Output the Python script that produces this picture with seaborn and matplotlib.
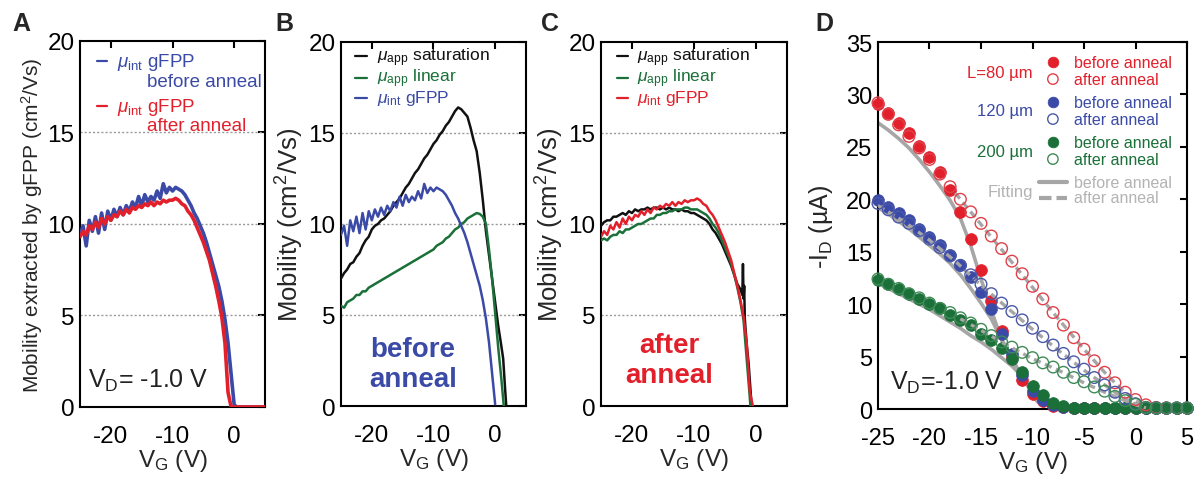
import numpy as np
import pandas as pd
import matplotlib
matplotlib.use("Agg")
import matplotlib.pyplot as plt
import seaborn as sns

# ---------------------------------------------------------------- data
# Gate-voltage grid shared by the gFPP mobility traces (0.5 V steps)
vg_mob = np.arange(-25, 5.01, 0.5)

# mu_int (gFPP), before anneal
mu_int_before = [
    9.4, 9.9, 8.8, 10.2, 9.6, 10.4, 9.5, 10.6, 9.7, 10.7, 10.2, 10.8, 10.4,
    10.9, 10.5, 11.0, 10.7, 11.2, 10.9, 11.5, 11.0, 11.6, 11.2, 11.5, 11.3,
    11.8, 11.4, 12.2, 11.7, 12.0, 11.8, 12.0, 11.9, 11.8, 11.6, 11.3, 11.0,
    10.6, 10.3, 9.9, 9.5, 9.0, 8.4, 7.8, 7.2, 6.6, 5.8, 4.8, 3.5, 1.8, 0.1,
    0, 0, 0, 0, 0, 0, 0, 0, 0, 0]

# mu_int (gFPP), after anneal
mu_int_after = [
    9.3, 9.6, 9.4, 9.9, 9.7, 10.1, 9.8, 10.3, 10.0, 10.4, 10.2, 10.5, 10.4,
    10.7, 10.5, 10.8, 10.6, 10.9, 10.8, 11.0, 10.9, 11.1, 11.0, 11.2, 11.0,
    11.2, 11.1, 11.3, 11.2, 11.3, 11.3, 11.4, 11.3, 11.1, 11.0, 10.7, 10.5,
    10.2, 9.8, 9.4, 9.0, 8.5, 8.0, 7.3, 6.6, 5.8, 4.9, 3.5, 0.8, 0, 0,
    0, 0, 0, 0, 0, 0, 0, 0, 0, 0]

# Apparent mobility before anneal (panel B)
vg_b_sat = [-25, -24.5, -24, -23.5, -23, -22.5, -22, -21.5, -21, -20.5, -20,
            -19.5, -19, -18.5, -18, -17.5, -17, -16.5, -16, -15.5, -15, -14.5,
            -14, -13.5, -13, -12.5, -12, -11.5, -11, -10.5, -10, -9.5, -9,
            -8.5, -8, -7.5, -7, -6.5, -6, -5.5, -5, -4.5, -4, -3.5, -3, -2.5,
            -2, -1.5, -1, -0.5, 0, 0.5, 1.0, 1.3, 1.6, 1.8]
mu_app_sat_before = [7.0, 7.3, 7.5, 7.8, 7.9, 8.2, 8.4, 8.8, 9.1, 9.3, 9.7,
                     9.9, 10.0, 10.2, 10.3, 10.5, 10.7, 11.0, 11.2, 11.4, 11.7,
                     12.0, 12.2, 12.5, 12.8, 13.0, 13.3, 13.6, 13.8, 14.1, 14.4,
                     14.6, 14.9, 15.1, 15.4, 15.6, 15.9, 16.2, 16.4, 16.3, 16.1,
                     15.9, 15.3, 14.6, 14.0, 12.8, 11.3, 9.6, 8.3, 7.0, 5.7,
                     4.4, 3.3, 2.6, 1.0, 0.0]
vg_b_lin = [-25, -24.5, -24, -23.5, -23, -22.5, -22, -21.5, -21, -20.5, -20,
            -19.5, -19, -18.5, -18, -17.5, -17, -16.5, -16, -15.5, -15, -14.5,
            -14, -13.5, -13, -12.5, -12, -11.5, -11, -10.5, -10, -9.5, -9,
            -8.5, -8, -7.5, -7, -6.5, -6, -5.5, -5, -4.5, -4, -3.5, -3, -2.5,
            -2, -1.5, -1, -0.5, 0, 0.5, 1.0, 1.4]
mu_app_lin_before = [5.5, 5.4, 5.7, 5.8, 5.9, 6.1, 6.1, 6.3, 6.3, 6.5, 6.6,
                     6.7, 6.8, 6.9, 7.0, 7.1, 7.2, 7.3, 7.4, 7.5, 7.6, 7.7,
                     7.8, 7.9, 8.0, 8.1, 8.2, 8.3, 8.4, 8.5, 8.6, 8.8, 8.9,
                     9.0, 9.2, 9.3, 9.5, 9.7, 9.8, 10.0, 10.1, 10.3, 10.4,
                     10.5, 10.6, 10.55, 10.4, 10.0, 8.6, 7.0, 5.1, 3.2, 1.5, 0.0]

# Apparent mobility after anneal (panel C)
vg_c_sat = [-25, -24.5, -24, -23.5, -23, -22.5, -22, -21.5, -21, -20.5, -20,
            -19.5, -19, -18.5, -18, -17.5, -17, -16.5, -16, -15.5, -15, -14.5,
            -14, -13.5, -13, -12.5, -12, -11.5, -11, -10.5, -10, -9.5, -9,
            -8.5, -8, -7.5, -7, -6.5, -6, -5.5, -5, -4.5, -4, -3.5, -3, -2.5,
            -2.2, -2.1, -2.0, -1.9, -1.8, -1.5, -1.2, -0.7]
mu_app_sat_after = [9.9, 10.1, 10.2, 10.2, 10.4, 10.4, 10.5, 10.6, 10.5, 10.7,
                    10.6, 10.8, 10.7, 10.8, 10.8, 10.9, 10.8, 10.9, 10.9, 10.8,
                    10.9, 10.8, 10.9, 10.8, 10.8, 10.7, 10.8, 10.7, 10.7, 10.6,
                    10.6, 10.5, 10.4, 10.3, 10.2, 10.0, 9.7, 9.5, 9.2, 8.9,
                    8.5, 8.1, 7.7, 7.2, 6.7, 6.4, 6.1, 7.8, 5.9, 6.6, 4.8,
                    3.4, 2.4, 0.0]
vg_c_lin = [-25, -24.5, -24, -23.5, -23, -22.5, -22, -21.5, -21, -20.5, -20,
            -19.5, -19, -18.5, -18, -17.5, -17, -16.5, -16, -15.5, -15, -14.5,
            -14, -13.5, -13, -12.5, -12, -11.5, -11, -10.5, -10, -9.5, -9,
            -8.5, -8, -7.5, -7, -6.5, -6, -5.5, -5, -4.5, -4, -3.5, -3, -2.5,
            -2, -1.5, -1, -0.9]
mu_app_lin_after = [9.1, 9.2, 9.1, 9.3, 9.4, 9.4, 9.6, 9.5, 9.7, 9.7, 9.8,
                    9.9, 10.0, 10.0, 10.1, 10.2, 10.3, 10.3, 10.5, 10.5, 10.6,
                    10.6, 10.7, 10.7, 10.8, 10.8, 10.8, 10.9, 10.9, 10.8, 10.8,
                    10.8, 10.7, 10.6, 10.5, 10.3, 10.0, 9.8, 9.5, 9.1, 8.7,
                    8.3, 7.8, 7.2, 6.5, 5.7, 4.7, 2.6, 0.5, 0.0]

# Transfer curves (panel D), V_D = -1.0 V
vg_id = np.arange(-25, 6, 1)
id_80_before = [29.1, 28.2, 27.3, 26.3, 25.1, 24.0, 22.6, 20.9, 18.8, 16.2,
                13.3, 10.3, 7.4, 5.0, 2.8, 1.4, 0.8, 0.3, 0.15, 0.1, 0.1,
                0.1, 0.1, 0.1, 0.1, 0.1, 0.1, 0.1, 0.1, 0.1, 0.1]
id_80_after = [29.2, 28.1, 27.1, 26.0, 24.9, 23.8, 22.4, 21.2, 20.0, 18.8,
               17.7, 16.5, 15.3, 14.1, 12.9, 11.7, 10.5, 9.2, 8.0, 6.8, 5.7,
               4.6, 3.5, 2.5, 1.6, 0.9, 0.4, 0.15, 0.1, 0.1, 0.1]
id_120_before = [19.9, 19.3, 18.7, 18.0, 17.2, 16.4, 15.6, 14.7, 13.7, 12.6,
                 11.2, 9.5, 7.2, 5.2, 3.2, 1.7, 0.9, 0.4, 0.15, 0.1, 0.1,
                 0.1, 0.1, 0.1, 0.1, 0.1, 0.1, 0.1, 0.1, 0.1, 0.1]
id_120_after = [19.6, 19.0, 18.3, 17.7, 17.0, 16.2, 15.4, 14.6, 13.7, 12.8,
                11.9, 11.0, 10.1, 9.3, 8.5, 7.7, 6.9, 6.1, 5.3, 4.5, 3.8,
                3.0, 2.3, 1.6, 1.0, 0.5, 0.15, 0.1, 0.1, 0.1, 0.1]
id_200_before = [12.3, 11.9, 11.4, 11.0, 10.5, 10.0, 9.6, 9.0, 8.5, 8.0,
                 7.2, 6.6, 5.8, 4.8, 3.5, 2.2, 1.3, 0.6, 0.3, 0.1, 0.1,
                 0.1, 0.1, 0.1, 0.1, 0.1, 0.1, 0.1, 0.1, 0.1, 0.1]
id_200_after = [12.4, 11.9, 11.5, 11.0, 10.6, 10.1, 9.6, 9.2, 8.7, 8.2,
                7.6, 7.0, 6.4, 5.9, 5.4, 4.9, 4.4, 4.0, 3.5, 3.0, 2.6,
                2.1, 1.7, 1.2, 0.8, 0.45, 0.15, 0.1, 0.1, 0.1, 0.1]

# Model fits, before anneal (solid)
vg_fit_before = [-25, -24, -23, -22, -21, -20, -19, -18, -17, -16, -15, -14,
                 -13, -12, -11, -10, -9.5]
fit_80_before = [27.3, 26.6, 25.8, 24.9, 23.8, 22.6, 21.3, 19.9, 18.2, 15.6,
                 12.4, 9.4, 6.6, 4.7, 3.1, 1.5, 0.7]
fit_120_before = [19.2, 18.6, 17.9, 17.2, 16.4, 15.6, 14.8, 13.9, 12.8, 11.5,
                  10.1, 8.6, 6.6, 4.8, 3.1, 1.5, 0.7]
fit_200_before = [12.0, 11.5, 11.0, 10.5, 10.0, 9.5, 8.9, 8.3, 7.7, 7.0,
                  6.4, 5.7, 4.9, 4.1, 3.1, 1.5, 0.7]

# Model fits, after anneal (dashed)
vg_fit_80_after = [-17.5, -15, -12.5, -10, -7.5, -5, -3, -2, -1, 0, 1]
fit_80_after = [20.6, 17.6, 14.6, 11.6, 8.6, 5.7, 3.5, 2.5, 1.6, 0.8, 0.3]
vg_fit_120_after = [-25, -22.5, -20, -17.5, -15, -12.5, -10, -7.5, -5, -3,
                    -2, -1, 0, 1]
fit_120_after = [19.4, 17.9, 16.1, 14.1, 11.8, 9.7, 7.6, 5.6, 3.7, 2.3, 1.6,
                 1.0, 0.5, 0.1]
vg_fit_200_after = [-17, -15, -12.5, -10, -7.5, -5, -3, -2, -1, 0, 1]
fit_200_after = [8.6, 7.5, 6.1, 4.8, 3.7, 2.5, 1.6, 1.2, 0.8, 0.4, 0.1]

# ---------------------------------------------------------------- style
sns.set_theme(style="white")
plt.rcParams["font.family"] = ["Liberation Sans", "DejaVu Sans"]
plt.rcParams["mathtext.fontset"] = "custom"
plt.rcParams["mathtext.rm"] = "Liberation Sans"
plt.rcParams["mathtext.it"] = "Liberation Sans:italic"
plt.rcParams["mathtext.bf"] = "Liberation Sans:bold"
plt.rcParams["axes.unicode_minus"] = False

RED = "#e2202b"
RED_OPEN = "#e0404a"
BLUE = "#3a4aa6"
BLUE_OPEN = "#4b58a8"
GREEN = "#1a7038"
GREEN_OPEN = "#3f8a57"
BLACK = "#111111"
GRAY = "#a6a6a6"
LEG_GRAY = "#b3b3b3"

fig = plt.figure(figsize=(11.96, 4.81), dpi=100)
ax_a = fig.add_axes([0.0669, 0.1518, 0.1547, 0.761])
ax_b = fig.add_axes([0.2851, 0.1538, 0.1547, 0.757])
ax_c = fig.add_axes([0.5025, 0.1538, 0.1555, 0.757])
ax_d = fig.add_axes([0.7341, 0.1476, 0.2584, 0.763])


def frame(ax, labelsize):
    for sp in ax.spines.values():
        sp.set_linewidth(1.5)
        sp.set_color("black")
        sp.set_visible(True)
    ax.tick_params(direction="in", top=True, right=True, length=5, width=1.5,
                   labelsize=labelsize, colors="black")
    ax.tick_params(axis="x", pad=13)
    ax.tick_params(axis="y", pad=4)


def mobility_axes(ax, ylabel, ylabel_size):
    ax.set_xlim(-25, 5)
    ax.set_ylim(0, 20)
    ax.set_xticks([-20, -10, 0])
    ax.set_yticks([0, 5, 10, 15, 20])
    for g in (5, 10, 15):
        ax.axhline(g, color="#9a9a9a", lw=1.0, ls=(0, (1.5, 1.5)), zorder=1)
    frame(ax, 17.5)
    ax.set_xlabel("V$_{\\rm G}$ (V)", fontsize=17.5, labelpad=0)
    ax.set_ylabel(ylabel, fontsize=ylabel_size, labelpad=2)


def line(ax, x, y, color, lw, ls="-", z=2):
    sns.lineplot(x=np.asarray(x, float), y=np.asarray(y, float), ax=ax,
                 color=color, lw=lw, ls=ls, estimator=None, sort=False,
                 zorder=z)


def key_row(ax, y, color, label, x0, x1, xt, size):
    ax.plot([x0, x1], [y, y], transform=ax.transAxes, color=color, lw=1.6,
            clip_on=False)
    ax.text(xt, y, label, transform=ax.transAxes, color=color, fontsize=size,
            va="center", ha="left")


# ---------------------------------------------------------------- panel A
line(ax_a, vg_mob, mu_int_before, BLUE, 2.6, z=3)
line(ax_a, vg_mob, mu_int_after, RED, 2.6, z=4)
mobility_axes(ax_a, "Mobility extracted by gFPP (cm$^2$/Vs)", 15)
key_row(ax_a, 0.945, BLUE, r"$\mu_{\rm int}$ gFPP", 0.092, 0.146, 0.2, 13.5)
ax_a.text(0.362, 0.889, "before anneal", transform=ax_a.transAxes,
          color=BLUE, fontsize=13.5, va="center")
key_row(ax_a, 0.822, RED, r"$\mu_{\rm int}$ gFPP", 0.092, 0.146, 0.2, 13.5)
ax_a.text(0.362, 0.768, "after anneal", transform=ax_a.transAxes,
          color=RED, fontsize=13.5, va="center")
ax_a.text(0.045, 0.055, "V$_{\\rm D}$= -1.0 V", transform=ax_a.transAxes,
          fontsize=18, va="baseline", color="#222222")

# ---------------------------------------------------------------- panel B
line(ax_b, vg_b_sat, mu_app_sat_before, BLACK, 1.8, z=3)
line(ax_b, vg_b_lin, mu_app_lin_before, GREEN, 1.8, z=3)
line(ax_b, vg_mob[:51], mu_int_before[:51], BLUE, 1.8, z=4)
mobility_axes(ax_b, "Mobility (cm$^2$/Vs)", 18.5)
rows = (0.960, 0.901, 0.846)
key_size = 12.5
key_row(ax_b, rows[0], BLACK, r"$\mu_{\rm app}$ saturation", 0.076, 0.14, 0.195, key_size)
key_row(ax_b, rows[1], GREEN, r"$\mu_{\rm app}$ linear", 0.076, 0.14, 0.195, key_size)
key_row(ax_b, rows[2], BLUE, r"$\mu_{\rm int}$ gFPP", 0.076, 0.14, 0.195, key_size)
ax_b.text(0.39, 0.137, "before", transform=ax_b.transAxes, color=BLUE,
          fontsize=20, fontweight="bold", ha="center", va="baseline")
ax_b.text(0.39, 0.055, "anneal", transform=ax_b.transAxes, color=BLUE,
          fontsize=20, fontweight="bold", ha="center", va="baseline")

# ---------------------------------------------------------------- panel C
line(ax_c, vg_c_sat, mu_app_sat_after, BLACK, 1.8, z=3)
line(ax_c, vg_c_lin, mu_app_lin_after, GREEN, 1.8, z=3)
line(ax_c, vg_mob[:50], mu_int_after[:50], RED, 1.8, z=4)
mobility_axes(ax_c, "Mobility (cm$^2$/Vs)", 18.5)
key_row(ax_c, rows[0], BLACK, r"$\mu_{\rm app}$ saturation", 0.086, 0.145, 0.194, key_size)
key_row(ax_c, rows[1], GREEN, r"$\mu_{\rm app}$ linear", 0.086, 0.145, 0.194, key_size)
key_row(ax_c, rows[2], RED, r"$\mu_{\rm int}$ gFPP", 0.086, 0.145, 0.194, key_size)
ax_c.text(0.366, 0.148, "after", transform=ax_c.transAxes, color=RED,
          fontsize=20, fontweight="bold", ha="center", va="baseline")
ax_c.text(0.366, 0.066, "anneal", transform=ax_c.transAxes, color=RED,
          fontsize=20, fontweight="bold", ha="center", va="baseline")

# ---------------------------------------------------------------- panel D
line(ax_d, vg_fit_before, fit_80_before, GRAY, 2.6, z=2)
line(ax_d, vg_fit_before, fit_120_before, GRAY, 2.6, z=2)
line(ax_d, vg_fit_before, fit_200_before, GRAY, 2.6, z=2)

for vals, col in ((id_80_before, RED), (id_120_before, BLUE),
                  (id_200_before, GREEN)):
    sns.scatterplot(x=vg_id, y=vals, ax=ax_d, color=col, edgecolor=col,
                    s=72, linewidth=0.5, zorder=3, clip_on=False)

dash = (0, (2.2, 1.4))
line(ax_d, vg_fit_80_after, fit_80_after, GRAY, 2.4, ls=dash, z=4)
line(ax_d, vg_fit_120_after, fit_120_after, GRAY, 2.4, ls=dash, z=4)
line(ax_d, vg_fit_200_after, fit_200_after, GRAY, 2.4, ls=dash, z=4)

for vals, col in ((id_80_after, RED_OPEN), (id_120_after, BLUE_OPEN),
                  (id_200_after, GREEN_OPEN)):
    sns.scatterplot(x=vg_id, y=vals, ax=ax_d, facecolor="none", edgecolor=col,
                    s=70, linewidth=1.0, zorder=5, clip_on=False)

ax_d.set_xlim(-25, 5)
ax_d.set_ylim(0, 35)
ax_d.set_xticks(np.arange(-25, 6, 5))
ax_d.set_yticks(np.arange(0, 36, 5))
frame(ax_d, 17)
ax_d.set_xlabel("V$_{\\rm G}$ (V)", fontsize=17.5, labelpad=0)
ax_d.set_ylabel("-I$_{\\rm D}$ (µA)", fontsize=18, labelpad=8)
ax_d.text(0.039, 0.054, "V$_{\\rm D}$=-1.0 V", transform=ax_d.transAxes,
          fontsize=18, va="baseline", color="#222222")

# key for panel D
groups = [("L=80 µm", RED, RED_OPEN, 0.918, 0.9455, 0.899),
          ("120 µm", BLUE, BLUE_OPEN, 0.812, 0.8365, 0.790),
          ("200 µm", GREEN, GREEN_OPEN, 0.703, 0.7275, 0.681)]
for name, col, col_open, yg, yb, ya in groups:
    ax_d.text(0.502, yg, name, transform=ax_d.transAxes, color=col,
              fontsize=12, ha="right", va="center")
    ax_d.scatter([0.566], [yb], transform=ax_d.transAxes, s=60, color=col,
                 edgecolor=col, linewidth=0.5, clip_on=False, zorder=6)
    ax_d.scatter([0.566], [ya], transform=ax_d.transAxes, s=56,
                 facecolor="none", edgecolor=col_open, linewidth=1.0,
                 clip_on=False, zorder=6)
    ax_d.text(0.634, yb, "before anneal", transform=ax_d.transAxes, color=col,
              fontsize=11.5, ha="left", va="center")
    ax_d.text(0.634, ya, "after anneal", transform=ax_d.transAxes, color=col,
              fontsize=11.5, ha="left", va="center")

ax_d.text(0.502, 0.594, "Fitting", transform=ax_d.transAxes, color=LEG_GRAY,
          fontsize=12, ha="right", va="center")
ax_d.plot([0.521, 0.612], [0.6185, 0.6185], transform=ax_d.transAxes,
          color=GRAY, lw=3, clip_on=False)
ax_d.plot([0.521, 0.612], [0.575, 0.575], transform=ax_d.transAxes,
          color=GRAY, lw=3, ls=(0, (3, 1.2)), clip_on=False)
ax_d.text(0.634, 0.6185, "before anneal", transform=ax_d.transAxes,
          color=LEG_GRAY, fontsize=11.5, ha="left", va="center")
ax_d.text(0.634, 0.575, "after anneal", transform=ax_d.transAxes,
          color=LEG_GRAY, fontsize=11.5, ha="left", va="center")

# panel letters
for xl, letter in ((0.010, "A"), (0.230, "B"), (0.452, "C"), (0.682, "D")):
    fig.text(xl, 0.935, letter, fontsize=18, fontweight="bold",
             va="baseline", ha="left")

fig.savefig("out.png", dpi=100)
